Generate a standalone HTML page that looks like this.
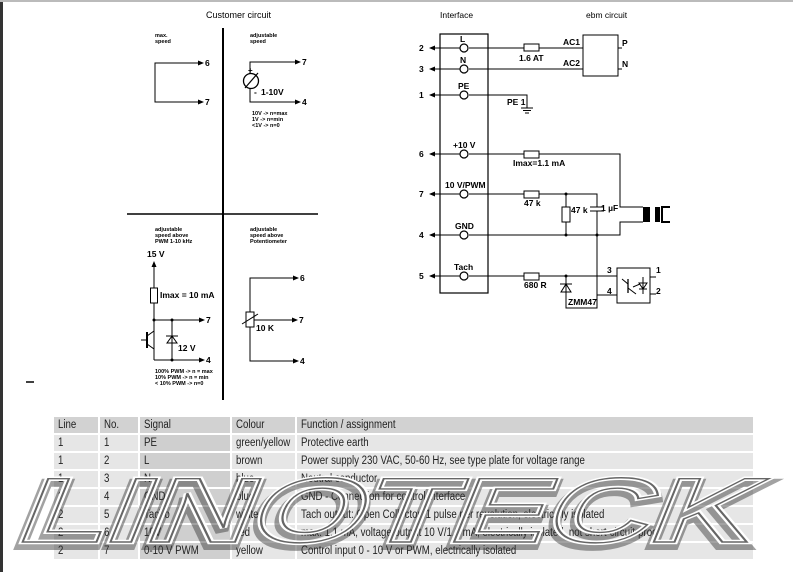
<!DOCTYPE html>
<html><head><meta charset="utf-8"><style>
html,body{margin:0;padding:0;background:#fff;}
body{width:793px;height:572px;position:relative;overflow:hidden;font-family:"Liberation Sans",sans-serif;}
#lb{position:absolute;left:0;top:0;width:3px;height:572px;background:#333;}
#tb{position:absolute;left:0;top:0;width:793px;height:2px;background:#bbb;}
svg{position:absolute;left:0;top:0;}
table{position:absolute;left:52px;top:415px;width:703px;border-collapse:separate;border-spacing:2px;font-size:11.5px;color:#222;table-layout:fixed;}
td{height:16px;padding:0 0 0 4px;background:#e6e6e6;white-space:nowrap;overflow:hidden;}
td span{display:inline-block;transform:scaleX(.84);transform-origin:left center;}
tr.h td{background:#d2d2d2;}
td.s{background:#cfcfcf;}
</style></head><body>
<div id="lb"></div><div id="tb"></div>
<table>
<colgroup><col style="width:44px"><col style="width:38px"><col style="width:90px"><col style="width:62px"><col style="width:455px"></colgroup>
<tr class="h"><td><span>Line</span></td><td><span>No.</span></td><td class="s"><span>Signal</span></td><td><span>Colour</span></td><td><span>Function / assignment</span></td></tr>
<tr><td><span>1</span></td><td><span>1</span></td><td class="s"><span>PE</span></td><td><span>green/yellow</span></td><td><span>Protective earth</span></td></tr>
<tr><td><span>1</span></td><td><span>2</span></td><td class="s"><span>L</span></td><td><span>brown</span></td><td><span>Power supply 230 VAC, 50-60 Hz, see type plate for voltage range</span></td></tr>
<tr><td><span>1</span></td><td><span>3</span></td><td class="s"><span>N</span></td><td><span>blue</span></td><td><span>Neutral conductor</span></td></tr>
<tr><td><span>2</span></td><td><span>4</span></td><td class="s"><span>GND</span></td><td><span>blue</span></td><td><span>GND - Connection for control interface</span></td></tr>
<tr><td><span>2</span></td><td><span>5</span></td><td class="s"><span>Tacho</span></td><td><span>white</span></td><td><span>Tach output: Open Collector, 1 pulse per revolution, electrically isolated</span></td></tr>
<tr><td><span>2</span></td><td><span>6</span></td><td class="s"><span>10V</span></td><td><span>red</span></td><td><span>max. 1.1 mA, voltage output 10 V/1.1 mA, electrically isolated, not short-circuit-proof</span></td></tr>
<tr><td><span>2</span></td><td><span>7</span></td><td class="s"><span>0-10 V PWM</span></td><td><span>yellow</span></td><td><span>Control input 0 - 10 V or PWM, electrically isolated</span></td></tr>
</table>
<svg width="793" height="572" viewBox="0 0 793 572" font-family="Liberation Sans, sans-serif" font-weight="bold" fill="#000">
<defs><marker id="a" markerWidth="6" markerHeight="6" refX="5" refY="3" orient="auto"><path d="M0,0.5 L6,3 L0,5.5z" fill="#000"/></marker></defs>
<g stroke="#000" stroke-width="1" fill="none">
<line x1="223" y1="28" x2="223" y2="400" stroke-width="2"/>
<line x1="127" y1="214" x2="318" y2="214" stroke-width="1.5"/>
<line x1="26" y1="382" x2="34" y2="382" stroke-width="1.5"/>
<polyline points="201,63 155,63 155,102 201,102"/>
<line x1="195" y1="63" x2="203" y2="63" marker-end="url(#a)"/>
<line x1="195" y1="102" x2="203" y2="102" marker-end="url(#a)"/>
<polyline points="298,62 250,62 250,73"/>
<polyline points="250,89 250,102 298,102"/>
<line x1="292" y1="62" x2="300" y2="62" marker-end="url(#a)"/>
<line x1="292" y1="102" x2="300" y2="102" marker-end="url(#a)"/>
<circle cx="251" cy="81" r="7.5" stroke-width="1.3"/>
<line x1="245" y1="88" x2="258" y2="73" stroke-width="1.2"/>
<line x1="154" y1="354" x2="154" y2="262" marker-end="url(#a)"/>
<rect x="150.5" y="288" width="7" height="15" fill="#fff"/>
<polyline points="154,320 202,320"/>
<line x1="196" y1="320" x2="204" y2="320" marker-end="url(#a)"/>
<polyline points="154,360 202,360"/>
<line x1="196" y1="360" x2="204" y2="360" marker-end="url(#a)"/>
<line x1="172" y1="320" x2="172" y2="360"/>
<path d="M167,343 L177,343 L172,336 Z M166,336 L178,336"/>
<line x1="147" y1="332" x2="147" y2="348" stroke-width="2"/>
<line x1="141" y1="340" x2="147" y2="340"/>
<polyline points="147,336 154,331 154,320"/>
<polyline points="147,344 154,349 154,360"/>
<polyline points="296,278 250,278 250,361 296,361"/>
<line x1="290" y1="278" x2="298" y2="278" marker-end="url(#a)"/>
<line x1="290" y1="361" x2="298" y2="361" marker-end="url(#a)"/>
<rect x="246" y="312" width="8" height="15" fill="#fff"/>
<line x1="242" y1="324" x2="258" y2="314"/>
<line x1="254" y1="320" x2="297" y2="320" marker-end="url(#a)"/>
<rect x="440" y="34" width="48" height="259" stroke-width="1.2"/>
<line x1="469" y1="48" x2="524" y2="48"/><line x1="539" y1="48" x2="583" y2="48"/>
<line x1="469" y1="69" x2="583" y2="69"/>
<polyline points="469,95 527,95 527,108"/>
<line x1="521" y1="108" x2="533" y2="108"/><line x1="523" y1="110.5" x2="531" y2="110.5"/><line x1="525" y1="113" x2="529" y2="113"/>
<polyline points="469,154 524,154"/><polyline points="539,154 620,154 620,207 643,207"/>
<polyline points="469,194 524,194"/><polyline points="539,194 597,194 597,207"/>
<line x1="590" y1="207" x2="604" y2="207"/><line x1="590" y1="211" x2="604" y2="211"/>
<line x1="597" y1="211" x2="597" y2="295"/>
<polyline points="597,295 617,295"/>
<line x1="566" y1="194" x2="566" y2="235"/>
<rect x="562" y="207" width="8" height="15" fill="#fff"/>
<polyline points="469,235 620,235 620,222 643,222"/>
<polyline points="469,276 524,276"/><polyline points="539,276 617,276"/>
<polyline points="566,276 566,308 597,308 597,295"/>
<path d="M561,292 L571,292 L566,284 Z M560,284 L572,284"/>
<rect x="583" y="35" width="35" height="41"/>
<line x1="618" y1="48" x2="622" y2="48"/><line x1="618" y1="69" x2="622" y2="69"/>
<rect x="617" y="268" width="33" height="35"/>
<line x1="650" y1="277" x2="656" y2="277"/><line x1="650" y1="294" x2="656" y2="294"/>
<line x1="628" y1="279" x2="628" y2="293" stroke-width="1.3"/>
<line x1="628" y1="284" x2="622" y2="279"/><line x1="628" y1="288" x2="636" y2="294"/>
<line x1="633" y1="287" x2="640" y2="284"/>
<polyline points="643,277 643,294"/><path d="M639,283 L647,283 L643,289 Z M639,289 L647,289"/>
<polyline points="670,207 662,207 662,222 670,222" stroke-width="2"/>
<rect x="524" y="44" width="15" height="7" fill="#fff"/>
<rect x="524" y="151" width="15" height="7" fill="#fff"/>
<rect x="524" y="191" width="15" height="7" fill="#fff"/>
<rect x="524" y="273" width="15" height="7" fill="#fff"/>
<g fill="#fff" stroke-width="1.2">
<circle cx="464" cy="48" r="4"/><circle cx="464" cy="69" r="4"/><circle cx="464" cy="95" r="4"/><circle cx="464" cy="154" r="4"/><circle cx="464" cy="194" r="4"/><circle cx="464" cy="235" r="4"/><circle cx="464" cy="276" r="4"/>
</g>
<g>
<line x1="460" y1="48" x2="430" y2="48" marker-end="url(#a)"/><line x1="460" y1="69" x2="430" y2="69" marker-end="url(#a)"/><line x1="460" y1="95" x2="430" y2="95" marker-end="url(#a)"/><line x1="460" y1="154" x2="430" y2="154" marker-end="url(#a)"/><line x1="460" y1="194" x2="430" y2="194" marker-end="url(#a)"/><line x1="460" y1="235" x2="430" y2="235" marker-end="url(#a)"/><line x1="460" y1="276" x2="430" y2="276" marker-end="url(#a)"/>
</g>
</g>
<rect x="643" y="207" width="7" height="15"/><rect x="655" y="207" width="5" height="15"/>
<circle cx="566" cy="194" r="1.5"/><circle cx="566" cy="235" r="1.5"/><circle cx="597" cy="235" r="1.5"/><circle cx="566" cy="276" r="1.5"/><circle cx="154" cy="320" r="1.5"/><circle cx="172" cy="320" r="1.5"/><circle cx="172" cy="360" r="1.5"/>
<g font-size="8.5">
<text x="206" y="18" font-weight="normal" font-size="9">Customer circuit</text>
<text x="440" y="18" font-weight="normal" font-size="8.5">Interface</text>
<text x="586" y="18" font-weight="normal" font-size="8.5">ebm circuit</text>
<text x="205" y="66">6</text><text x="205" y="105">7</text>
<text x="302" y="65">7</text><text x="302" y="105">4</text>
<text x="261" y="95">1-10V</text>
<text x="206" y="323">7</text><text x="206" y="363">4</text>
<text x="147" y="257">15 V</text><text x="160" y="298">Imax = 10 mA</text><text x="178" y="351">12 V</text>
<text x="300" y="281">6</text><text x="299" y="323">7</text><text x="300" y="364">4</text><text x="256" y="331">10 K</text>
<text x="419" y="51">2</text><text x="419" y="72">3</text><text x="419" y="98">1</text><text x="419" y="157">6</text><text x="419" y="197">7</text><text x="419" y="238">4</text><text x="419" y="279">5</text>
<text x="460" y="42">L</text><text x="460" y="63">N</text><text x="458" y="89">PE</text><text x="453" y="148">+10 V</text><text x="445" y="188">10 V/PWM</text><text x="455" y="229">GND</text><text x="454" y="270">Tach</text>
<text x="519" y="61">1.6 AT</text><text x="563" y="45">AC1</text><text x="563" y="66">AC2</text><text x="622" y="46">P</text><text x="622" y="67">N</text>
<text x="507" y="105">PE 1</text><text x="513" y="166">Imax=1.1 mA</text><text x="524" y="206">47 k</text><text x="571" y="213">47 k</text><text x="601" y="211">1 µF</text>
<text x="524" y="288">680 R</text><text x="568" y="305">ZMM47</text><text x="607" y="273">3</text><text x="607" y="294">4</text><text x="656" y="273">1</text><text x="656" y="294">2</text>
</g>
<g font-size="8.5"><text x="248" y="73" font-size="8">+</text><text x="254" y="95">-</text></g>
<g font-size="5.5">
<text x="155" y="37">max.</text><text x="155" y="43">speed</text>
<text x="250" y="37">adjustable</text><text x="250" y="43">speed</text>
<text x="252" y="115">10V -&gt; n=max</text><text x="252" y="121">1V  -&gt; n=min</text><text x="252" y="127">&lt;1V -&gt; n=0</text>
<text x="155" y="231">adjustable</text><text x="155" y="237">speed above</text><text x="155" y="243">PWM 1-10 kHz</text>
<text x="250" y="231">adjustable</text><text x="250" y="237">speed above</text><text x="250" y="243">Potentiometer</text>
<text x="155" y="373">100% PWM -&gt; n = max</text><text x="155" y="379">10% PWM -&gt; n = min</text><text x="155" y="385">&lt; 10% PWM -&gt; n=0</text>
</g>
<g transform="skewX(-22)" font-family="Liberation Sans, sans-serif" font-weight="bold">
<text x="232" y="546" font-size="92" textLength="735" lengthAdjust="spacingAndGlyphs" fill="none" stroke="#333" stroke-width="8" opacity="0.45">LINOTECK</text>
<text x="232" y="542" font-size="92" textLength="735" lengthAdjust="spacingAndGlyphs" fill="none" stroke="#fff" stroke-width="4.5">LINOTECK</text>
<text x="232" y="542" font-size="92" textLength="735" lengthAdjust="spacingAndGlyphs" fill="none" stroke="#666" stroke-width="1.4">LINOTECK</text>
</g>
</svg>
</body></html>
